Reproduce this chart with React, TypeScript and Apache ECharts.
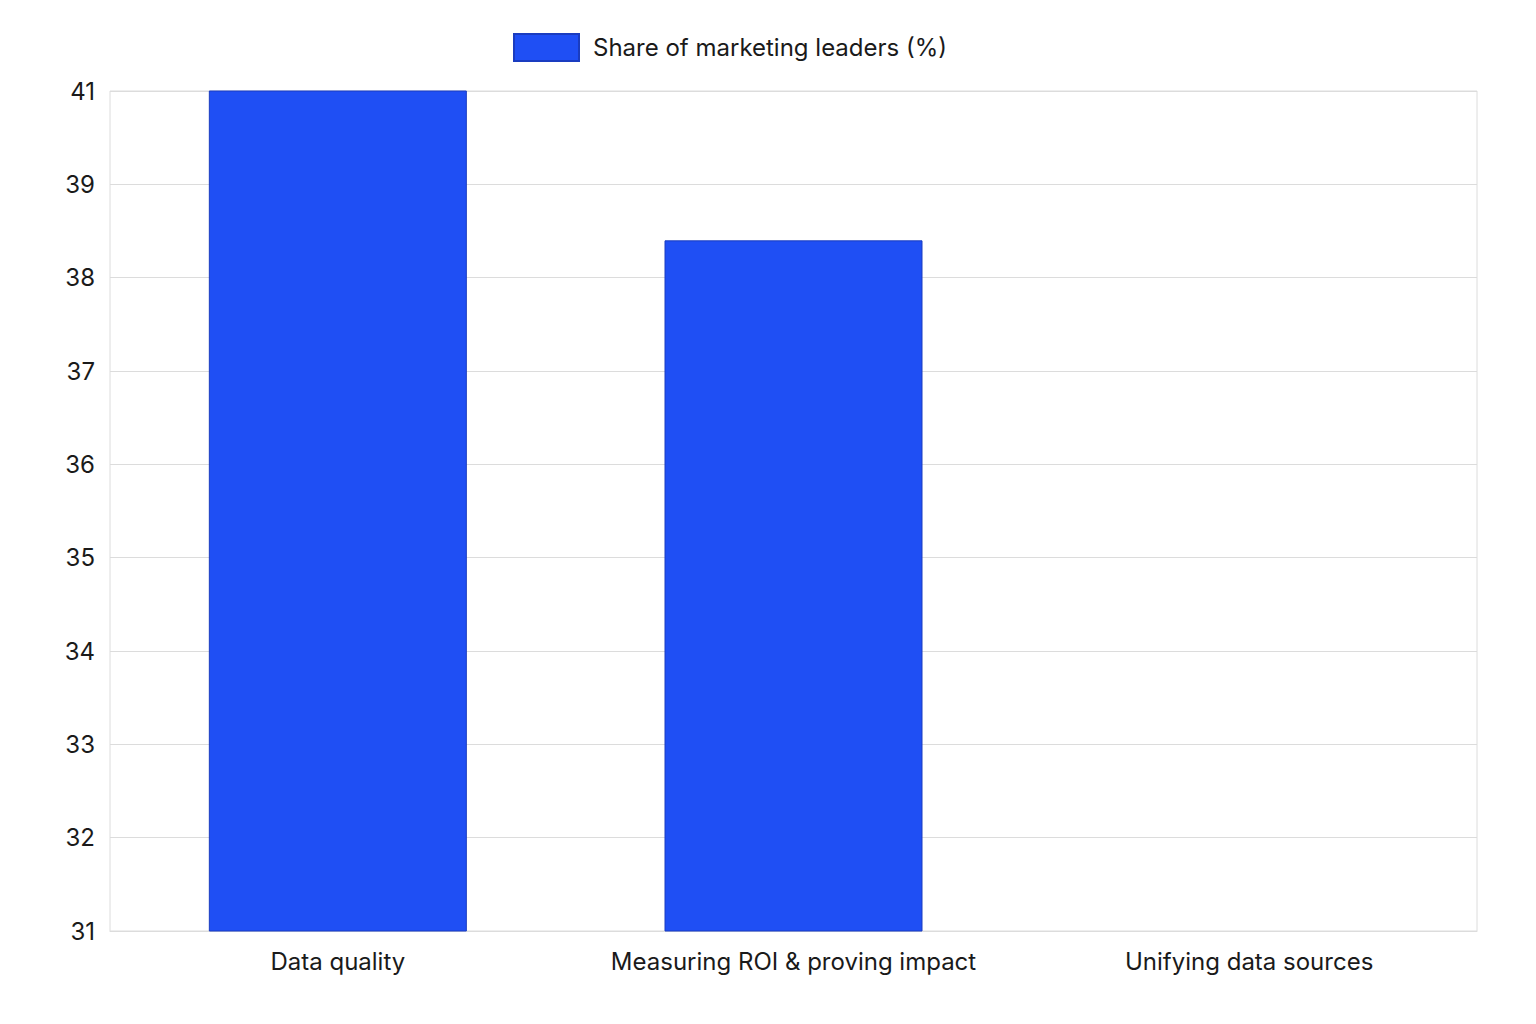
import { useEffect, useRef } from "react";
import * as echarts from "echarts";

const categories = ["Data quality", "Measuring ROI & proving impact", "Unifying data sources"];
const shareValues = [41, 38.4, 29];
const seriesName = "Share of marketing leaders (%)";
const yMin = 31;
const yMax = 40;
const yTickLabels = ["31", "32", "33", "34", "35", "36", "37", "38", "39", "41"];

export default function App() {
  const chartRef = useRef<HTMLDivElement | null>(null);

  useEffect(() => {
    if (!chartRef.current) return;
    const chart = echarts.init(chartRef.current, undefined, { renderer: "svg" });

    chart.setOption({
      animation: false,
      backgroundColor: "#ffffff",
      textStyle: { fontFamily: "Inter" },
      legend: {
        top: 33,
        left: 513,
        padding: 0,
        icon: "rect",
        itemWidth: 65,
        itemHeight: 27,
        textStyle: {
          fontSize: 24,
          color: "#1a1a1a",
          fontFamily: "Inter",
          padding: [0, 0, 0, 9],
        },
        data: [seriesName],
      },
      grid: {
        left: 110,
        right: 59,
        top: 91,
        bottom: 93,
        show: true,
        borderColor: "#dcdcdc",
        borderWidth: 1,
      },
      xAxis: {
        type: "category",
        data: categories,
        axisLine: { lineStyle: { color: "#dcdcdc" } },
        axisTick: { show: false },
        axisLabel: { fontSize: 24, color: "#1a1a1a", margin: 18, interval: 0 },
      },
      yAxis: {
        type: "value",
        min: yMin,
        max: yMax,
        interval: 1,
        axisLine: { show: false },
        axisTick: { show: false },
        splitLine: { lineStyle: { color: "#dcdcdc" } },
        axisLabel: {
          fontSize: 24,
          color: "#1a1a1a",
          margin: 15,
          formatter: (v: number) => yTickLabels[Math.round(v - yMin)] ?? "",
        },
      },
      series: [
        {
          name: seriesName,
          type: "bar",
          data: shareValues,
          barWidth: 258,
          clip: true,
          itemStyle: {
            color: "#1f4ff4",
            borderColor: "#1a3cc0",
            borderWidth: 1,
          },
        },
      ],
    });

    return () => chart.dispose();
  }, []);

  return (
    <div
      ref={chartRef}
      style={{ position: "fixed", left: 0, top: 0, width: 1536, height: 1024 }}
    />
  );
}
